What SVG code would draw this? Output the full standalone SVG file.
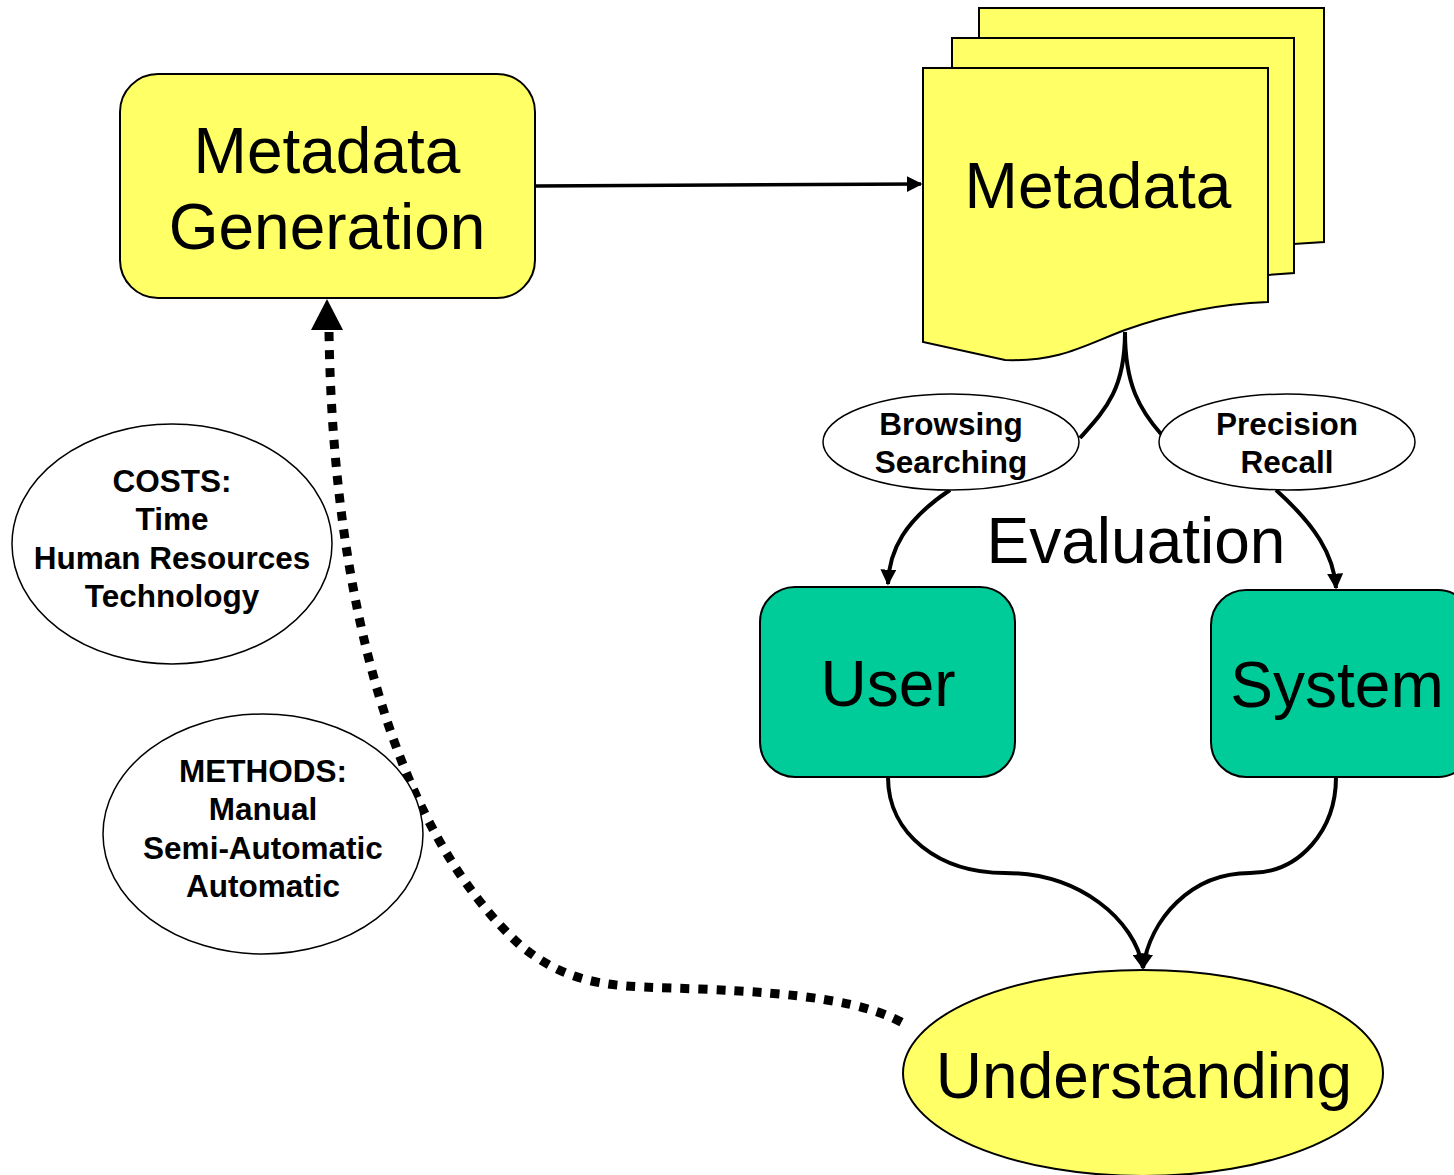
<svg xmlns="http://www.w3.org/2000/svg" width="1454" height="1175" viewBox="0 0 1454 1175">
  <style>
    .big { font-family: "Liberation Sans", Arial, sans-serif; font-size: 64px; text-anchor: middle; fill: #000; }
    .small { font-family: "Liberation Sans", Arial, sans-serif; font-size: 31.5px; font-weight: bold; text-anchor: middle; fill: #000; }
    .yellow { fill: #FFFF66; stroke: #000; stroke-width: 2; }
    .green { fill: #00CC99; stroke: #000; stroke-width: 2; }
    .oval { fill: #FFFFFF; stroke: #000; stroke-width: 1.5; }
    .link { fill: none; stroke: #000; stroke-width: 4; }
  </style>
  <defs>
    <marker id="head" viewBox="0 0 10 10" refX="9" refY="5" markerWidth="4" markerHeight="4" markerUnits="strokeWidth" orient="auto">
      <path d="M0,0 L10,5 L0,10 Z" fill="#000"/>
    </marker>
    <marker id="headThin" viewBox="0 0 10 10" refX="9" refY="5" markerWidth="4.5" markerHeight="4.5" markerUnits="strokeWidth" orient="auto">
      <path d="M0,0 L10,5 L0,10 Z" fill="#000"/>
    </marker>
  </defs>

  <rect width="1454" height="1175" fill="#FFFFFF"/>

  <!-- connectors -->
  <g id="connectors">
    <path d="M535,186 L921,184" fill="none" stroke="#000" stroke-width="3.5" marker-end="url(#headThin)"/>
    <path class="link" d="M1125,332 C1125,390 1105,410 1080,438"/>
    <path class="link" d="M1125,332 C1125,385 1140,410 1161,434"/>
    <path class="link" d="M950,490 C905,520 889,550 888,584" marker-end="url(#head)"/>
    <path class="link" d="M1276,490 C1315,525 1334,555 1336,588" marker-end="url(#head)"/>
    <path class="link" d="M888,777 C888,835 940,873 1005,873 C1080,873 1135,920 1143,968" marker-end="url(#head)"/>
    <path class="link" d="M1336,777 C1336,830 1300,873 1250,873 C1190,873 1150,920 1143,968" marker-end="url(#head)"/>
    <!-- dotted feedback link -->
    <path d="M329,332 C333,600 395,830 520,945 C575,990 620,986 700,989 C800,993 870,1002 908,1026" fill="none" stroke="#000" stroke-width="9" stroke-dasharray="9 9"/>
    <path d="M327,299 L343,330 L311,330 Z" fill="#000"/>
  </g>

  <!-- Metadata Generation -->
  <g id="metadata-generation">
    <rect class="yellow" x="120" y="74" width="415" height="224" rx="38" ry="38"/>
    <text class="big" x="327" y="173">Metadata</text>
    <text class="big" x="327" y="249">Generation</text>
  </g>

  <!-- Metadata document stack -->
  <g id="metadata">
    <path class="yellow" d="M979,8 L1324,8 L1324,242 L1294,244 L1294,38 L979,38 Z"/>
    <path class="yellow" d="M952,38 L1294,38 L1294,273 L1268,275 L1268,68 L952,68 Z"/>
    <path class="yellow" d="M923,68 L1268,68 L1268,302 C1215,304 1170,314 1125,330 C1085,345 1060,362 1005,360 L923,342 Z"/>
    <text class="big" x="1098" y="208">Metadata</text>
  </g>

  <!-- Browsing / Searching -->
  <g id="browsing-searching">
    <ellipse class="oval" cx="951" cy="442" rx="128" ry="48"/>
    <text class="small" x="951" y="435">Browsing</text>
    <text class="small" x="951" y="473">Searching</text>
  </g>

  <!-- Precision / Recall -->
  <g id="precision-recall">
    <ellipse class="oval" cx="1287" cy="442" rx="128" ry="48"/>
    <text class="small" x="1287" y="435">Precision</text>
    <text class="small" x="1287" y="473">Recall</text>
  </g>

  <!-- Evaluation label -->
  <g id="evaluation">
    <text class="big" x="1136" y="563">Evaluation</text>
  </g>

  <!-- User -->
  <g id="user">
    <rect class="green" x="760" y="587" width="255" height="190" rx="35" ry="35"/>
    <text class="big" x="888" y="706">User</text>
  </g>

  <!-- System -->
  <g id="system">
    <rect class="green" x="1211" y="590" width="262" height="187" rx="35" ry="35"/>
    <text class="big" x="1337" y="707">System</text>
  </g>

  <!-- Understanding -->
  <g id="understanding">
    <ellipse class="yellow" cx="1143" cy="1073" rx="240" ry="103"/>
    <text class="big" x="1144" y="1098">Understanding</text>
  </g>

  <!-- Costs -->
  <g id="costs">
    <ellipse class="oval" cx="172" cy="544" rx="160" ry="120"/>
    <text class="small" x="172" y="492">COSTS:</text>
    <text class="small" x="172" y="530">Time</text>
    <text class="small" x="172" y="569">Human Resources</text>
    <text class="small" x="172" y="607">Technology</text>
  </g>

  <!-- Methods -->
  <g id="methods">
    <ellipse class="oval" cx="263" cy="834" rx="160" ry="120"/>
    <text class="small" x="263" y="782">METHODS:</text>
    <text class="small" x="263" y="820">Manual</text>
    <text class="small" x="263" y="859">Semi-Automatic</text>
    <text class="small" x="263" y="897">Automatic</text>
  </g>
</svg>
